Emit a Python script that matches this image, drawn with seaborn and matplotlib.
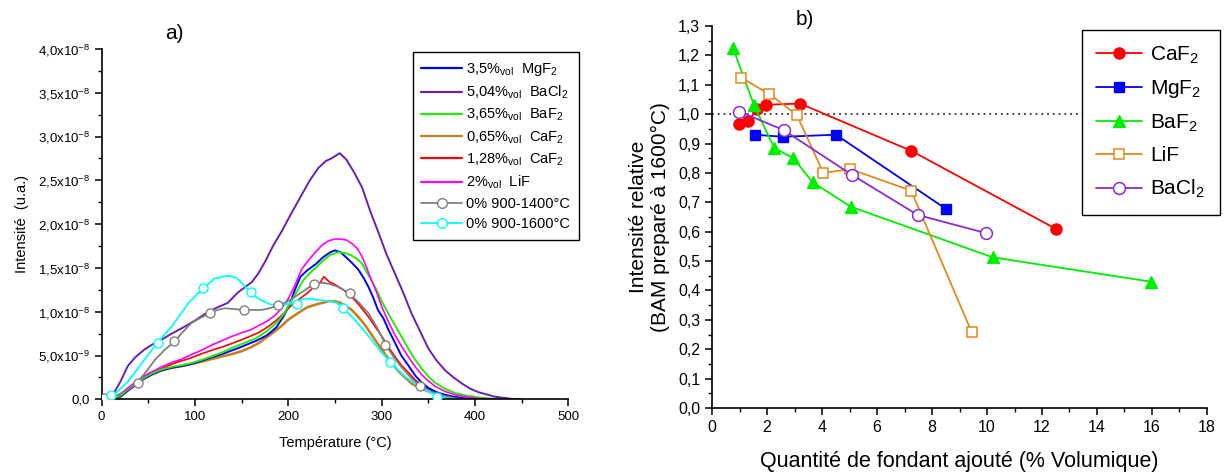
import matplotlib
matplotlib.use("Agg")
import matplotlib.pyplot as plt
from matplotlib.lines import Line2D
from matplotlib.ticker import MultipleLocator, FuncFormatter
import pandas as pd
import seaborn as sns

# ---------------------------------------------------------------- data
# a) TL glow curves, intensity in units of 1e-8 (u.a.)
temp_mgf2 = [0, 10, 20, 28, 37, 46, 55, 64, 75, 86, 95, 107, 118, 130, 140, 150, 159, 166, 177, 187,
             195, 202, 207, 213, 220, 230, 237, 245, 250, 256, 261, 268, 275, 281, 286, 291, 296, 302,
             307, 314, 321, 329, 336, 343, 350, 359, 368, 377, 386, 400]
tl_mgf2 = [0.0, 0.0, 0.03, 0.10, 0.17, 0.24, 0.29, 0.33, 0.36, 0.38, 0.40, 0.44, 0.48, 0.52, 0.56, 0.60,
           0.64, 0.67, 0.73, 0.82, 0.95, 1.10, 1.25, 1.40, 1.47, 1.55, 1.62, 1.68, 1.70, 1.68, 1.63,
           1.56, 1.48, 1.38, 1.28, 1.16, 1.02, 0.92, 0.80, 0.65, 0.50, 0.38, 0.27, 0.19, 0.13, 0.08,
           0.05, 0.03, 0.015, 0.0]

temp_bacl2 = [0, 10, 14, 20, 28, 36, 46, 55, 64, 75, 89, 100, 110, 122, 135, 146, 161, 168, 175, 184,
              193, 202, 214, 223, 232, 240, 246, 255, 262, 270, 279, 288, 296, 305, 314, 323, 332, 341,
              350, 359, 368, 377, 386, 395, 404, 421, 439, 450]
tl_bacl2 = [0.0, 0.02, 0.09, 0.2, 0.38, 0.48, 0.57, 0.63, 0.68, 0.75, 0.83, 0.9, 0.97, 1.04, 1.1, 1.22,
            1.34, 1.44, 1.57, 1.76, 1.92, 2.1, 2.33, 2.5, 2.64, 2.72, 2.75, 2.81, 2.74, 2.6, 2.42, 2.14,
            1.92, 1.66, 1.44, 1.22, 0.98, 0.78, 0.58, 0.44, 0.33, 0.25, 0.18, 0.12, 0.08, 0.03, 0.005, 0.0]

temp_baf2 = [0, 10, 20, 28, 37, 46, 55, 64, 75, 86, 95, 107, 118, 130, 140, 150, 159, 166, 177, 187,
             195, 202, 209, 216, 223, 230, 237, 245, 254, 261, 268, 274, 279, 284, 289, 295, 300, 307,
             314, 321, 329, 336, 343, 350, 357, 368, 379, 392, 404, 421, 440]
tl_baf2 = [0.0, 0.0, 0.04, 0.11, 0.18, 0.25, 0.30, 0.34, 0.37, 0.39, 0.41, 0.45, 0.49, 0.54, 0.59, 0.63,
           0.67, 0.70, 0.78, 0.87, 0.97, 1.10, 1.23, 1.36, 1.44, 1.51, 1.58, 1.65, 1.68, 1.67, 1.64,
           1.60, 1.55, 1.45, 1.36, 1.24, 1.12, 0.98, 0.85, 0.72, 0.57, 0.45, 0.35, 0.26, 0.19, 0.12,
           0.07, 0.04, 0.02, 0.005, 0.0]

temp_caf2_065 = [0, 10, 20, 28, 37, 46, 55, 64, 75, 86, 95, 107, 118, 129, 141, 150, 159, 168, 177, 186,
                 193, 200, 207, 214, 220, 229, 236, 243, 250, 256, 261, 268, 275, 282, 289, 296, 304,
                 311, 318, 325, 332, 341, 350, 359, 368, 377, 386, 400]
tl_caf2_065 = [0.0, 0.0, 0.03, 0.10, 0.17, 0.24, 0.29, 0.33, 0.36, 0.38, 0.40, 0.43, 0.46, 0.49, 0.52,
               0.55, 0.59, 0.64, 0.71, 0.78, 0.84, 0.91, 0.96, 1.01, 1.05, 1.08, 1.10, 1.12, 1.12, 1.10,
               1.07, 1.02, 0.94, 0.85, 0.74, 0.63, 0.51, 0.41, 0.32, 0.25, 0.18, 0.13, 0.09, 0.06, 0.03,
               0.015, 0.008, 0.0]

temp_caf2_128 = [0, 10, 20, 28, 37, 46, 55, 64, 75, 86, 95, 107, 118, 130, 140, 150, 159, 168, 177, 187,
                 195, 202, 210, 220, 229, 234, 238, 244, 250, 259, 268, 277, 286, 293, 300, 307, 314,
                 321, 329, 336, 343, 352, 361, 370, 379, 392]
tl_caf2_128 = [0.0, 0.0, 0.04, 0.11, 0.19, 0.26, 0.31, 0.35, 0.40, 0.44, 0.47, 0.52, 0.56, 0.60, 0.64,
               0.68, 0.72, 0.76, 0.82, 0.90, 0.98, 1.06, 1.13, 1.21, 1.30, 1.33, 1.40, 1.34, 1.31, 1.25,
               1.17, 1.06, 0.94, 0.83, 0.72, 0.60, 0.49, 0.39, 0.30, 0.22, 0.16, 0.11, 0.07, 0.04, 0.02,
               0.0]

temp_lif = [0, 11, 20, 28, 37, 46, 55, 64, 75, 86, 96, 107, 118, 129, 140, 150, 159, 168, 177, 186,
            193, 200, 207, 214, 221, 229, 236, 243, 250, 255, 262, 268, 274, 279, 284, 289, 295, 300,
            307, 314, 321, 329, 336, 343, 350, 357, 368, 379, 392, 404, 420]
tl_lif = [0.0, 0.01, 0.06, 0.13, 0.2, 0.27, 0.32, 0.37, 0.42, 0.46, 0.51, 0.56, 0.62, 0.67, 0.72, 0.76,
          0.79, 0.84, 0.89, 0.96, 1.04, 1.15, 1.30, 1.48, 1.58, 1.68, 1.76, 1.81, 1.83, 1.83, 1.82, 1.78,
          1.72, 1.63, 1.50, 1.36, 1.21, 1.06, 0.89, 0.74, 0.61, 0.48, 0.37, 0.28, 0.21, 0.15, 0.09,
          0.05, 0.025, 0.01, 0.0]

temp_ref1400 = [0, 14, 28, 38, 48, 57, 67, 78, 87, 96, 106, 115, 124, 132, 142, 153, 162, 171, 180, 189,
                198, 207, 218, 228, 236, 243, 252, 259, 266, 276, 286, 295, 304, 313, 321, 331, 341, 350,
                357, 366, 375, 385]
tl_ref1400 = [0.01, 0.03, 0.11, 0.19, 0.32, 0.45, 0.56, 0.66, 0.77, 0.87, 0.93, 0.98, 1.02, 1.04, 1.03,
              1.02, 1.02, 1.02, 1.04, 1.07, 1.11, 1.17, 1.25, 1.32, 1.33, 1.32, 1.29, 1.25, 1.20, 1.10,
              0.98, 0.82, 0.63, 0.48, 0.37, 0.25, 0.15, 0.10, 0.07, 0.04, 0.02, 0.0]
mark_temp_ref1400 = [2, 39, 78, 116, 152, 189, 227, 266, 304, 341]
mark_tl_ref1400 = [0.02, 0.19, 0.66, 0.99, 1.02, 1.08, 1.32, 1.21, 0.62, 0.15]

temp_ref1600 = [0, 5, 14, 28, 43, 59, 75, 93, 109, 121, 130, 136, 144, 150, 157, 164, 171, 182, 193, 200,
                207, 214, 221, 236, 246, 252, 259, 271, 280, 289, 298, 307, 316, 325, 334, 343, 357, 371,
                385]
tl_ref1600 = [0.03, 0.04, 0.06, 0.2, 0.41, 0.64, 0.83, 1.10, 1.27, 1.38, 1.40, 1.41, 1.39, 1.33, 1.25,
              1.18, 1.13, 1.08, 1.08, 1.09, 1.10, 1.14, 1.15, 1.13, 1.12, 1.10, 1.04, 0.91, 0.80, 0.68,
              0.56, 0.45, 0.35, 0.26, 0.19, 0.13, 0.05, 0.01, 0.0]
mark_temp_ref1600 = [10, 60, 109, 160, 209, 259, 309, 359]
mark_tl_ref1600 = [0.05, 0.64, 1.27, 1.23, 1.09, 1.04, 0.43, 0.03]

tl_labels = [r"3,5%$_{\mathrm{vol}}$  MgF$_2$", r"5,04%$_{\mathrm{vol}}$  BaCl$_2$",
             r"3,65%$_{\mathrm{vol}}$  BaF$_2$", r"0,65%$_{\mathrm{vol}}$  CaF$_2$",
             r"1,28%$_{\mathrm{vol}}$  CaF$_2$", r"2%$_{\mathrm{vol}}$  LiF",
             "0% 900-1400°C", "0% 900-1600°C"]
left_ytick_labels = ["0,0", r"5,0x10$^{-9}$", r"1,0x10$^{-8}$", r"1,5x10$^{-8}$", r"2,0x10$^{-8}$",
                     r"2,5x10$^{-8}$", r"3,0x10$^{-8}$", r"3,5x10$^{-8}$", r"4,0x10$^{-8}$"]

# b) relative intensity vs flux amount (% vol)
x_caf2 = [0.98, 1.31, 1.64, 1.97, 3.2, 7.25, 12.5]
y_caf2 = [0.966, 0.976, 1.017, 1.032, 1.036, 0.875, 0.61]
x_mgf2 = [1.56, 2.57, 4.51, 8.5]
y_mgf2 = [0.93, 0.923, 0.93, 0.678]
x_baf2 = [0.76, 1.53, 2.26, 2.96, 3.66, 5.05, 10.2, 15.96]
y_baf2 = [1.226, 1.03, 0.885, 0.85, 0.768, 0.685, 0.513, 0.43]
x_lif = [1.06, 2.09, 3.08, 4.05, 5.02, 7.24, 9.45]
y_lif = [1.124, 1.068, 0.998, 0.80, 0.813, 0.74, 0.257]
x_bacl2 = [0.99, 2.6, 5.08, 7.48, 9.97]
y_bacl2 = [1.009, 0.946, 0.794, 0.657, 0.595]
flux_labels = ["CaF$_2$", "MgF$_2$", "BaF$_2$", "LiF", "BaCl$_2$"]

# ---------------------------------------------------------------- style
sns.set_theme(style="ticks")
plt.rcParams["font.family"] = ["Liberation Sans", "DejaVu Sans"]
plt.rcParams["mathtext.fontset"] = "custom"
plt.rcParams["mathtext.rm"] = "Liberation Sans"
plt.rcParams["mathtext.it"] = "Liberation Sans:italic"
plt.rcParams["mathtext.bf"] = "Liberation Sans:bold"
plt.rcParams["axes.edgecolor"] = "black"
plt.rcParams["xtick.color"] = "black"
plt.rcParams["ytick.color"] = "black"
plt.rcParams["text.color"] = "black"
plt.rcParams["axes.labelcolor"] = "black"

tl_colors = ["#0000FF", "#6A1FB5", "#22EE00", "#C8801E", "#FF0000", "#FF00FF", "#808080", "#00FFFF"]
tl_widths = [1.4, 1.4, 1.4, 1.9, 1.2, 1.2, 1.3, 1.3]
flux_colors = ["#FF0000", "#0000FF", "#00EE00", "#E08A20", "#8A2BD2"]

fig = plt.figure(figsize=(12.31, 4.75), dpi=100)

# ---------------------------------------------------------------- panel a
ax1 = fig.add_axes([0.0826, 0.1594, 0.3791, 0.7374])
curves = [(temp_mgf2, tl_mgf2), (temp_bacl2, tl_bacl2), (temp_baf2, tl_baf2),
          (temp_caf2_065, tl_caf2_065), (temp_caf2_128, tl_caf2_128), (temp_lif, tl_lif),
          (temp_ref1400, tl_ref1400), (temp_ref1600, tl_ref1600)]
tl_df = pd.concat(
    [pd.DataFrame({"temp": t, "tl": v, "serie": lab}) for (t, v), lab in zip(curves, tl_labels)],
    ignore_index=True,
)
draw_order = [3, 4, 0, 2, 5, 1, 6, 7]
for i in draw_order:
    sns.lineplot(data=tl_df[tl_df.serie == tl_labels[i]], x="temp", y="tl", color=tl_colors[i],
                 linewidth=tl_widths[i], estimator=None, sort=False, ax=ax1)

marks = [(mark_temp_ref1400, mark_tl_ref1400, 6), (mark_temp_ref1600, mark_tl_ref1600, 7)]
for mt, mv, i in marks:
    sns.scatterplot(x=mt, y=mv, marker="o", s=42, facecolor="white", edgecolor=tl_colors[i],
                    linewidth=1.0, ax=ax1, zorder=4)

ax1.set_xlim(0, 500)
ax1.set_ylim(0, 4.0)
ax1.xaxis.set_major_locator(MultipleLocator(100))
ax1.xaxis.set_minor_locator(MultipleLocator(50))
ax1.set_yticks([i * 0.5 for i in range(9)])
ax1.set_yticklabels(left_ytick_labels)
ax1.yaxis.set_minor_locator(MultipleLocator(0.25))
ax1.tick_params(which="major", direction="out", length=5, width=1.1, labelsize=9.5)
ax1.tick_params(which="minor", direction="out", length=3, width=1.0)
ax1.set_xlabel("Température (°C)", fontsize=10.5, labelpad=9)
ax1.set_ylabel("Intensité  (u.a.)", fontsize=10.5, labelpad=6)
for sp in ["left", "bottom"]:
    ax1.spines[sp].set_linewidth(1.2)
sns.despine(ax=ax1)

handles1 = []
for i, lab in enumerate(tl_labels):
    if i >= 6:
        handles1.append(Line2D([], [], color=tl_colors[i], lw=1.3, marker="o", ms=7,
                               mfc="white", mec=tl_colors[i], label=lab))
    else:
        handles1.append(Line2D([], [], color=tl_colors[i], lw=1.6, label=lab))
leg1 = ax1.legend(handles=handles1, loc="upper right", bbox_to_anchor=(1.023, 0.991),
                  borderaxespad=0, fontsize=10.5, handlelength=2.8, handletextpad=0.3,
                  labelspacing=0.4, frameon=True, fancybox=False, framealpha=1,
                  edgecolor="black", borderpad=0.6)
leg1.get_frame().set_linewidth(1.0)

fig.text(0.142, 0.93, "a)", fontsize=15, ha="center", va="center")

# ---------------------------------------------------------------- panel b
ax2 = fig.add_axes([0.5784, 0.141, 0.4021, 0.8043])
flux_sets = [(x_caf2, y_caf2), (x_mgf2, y_mgf2), (x_baf2, y_baf2), (x_lif, y_lif), (x_bacl2, y_bacl2)]
flux_df = pd.concat(
    [pd.DataFrame({"vol": xs, "rel": ys, "flux": lab}) for (xs, ys), lab in zip(flux_sets, flux_labels)],
    ignore_index=True,
)
flux_markers = ["o", "s", "^", "s", "o"]
flux_msize = [8, 7, 9, 7.5, 8.5]
flux_filled = [True, True, True, False, False]

ax2.axhline(1.0, color="#333333", linestyle=(0, (1, 2.2)), linewidth=1.3, zorder=1)
for i, lab in enumerate(flux_labels):
    col = flux_colors[i]
    sns.lineplot(data=flux_df[flux_df.flux == lab], x="vol", y="rel", color=col, linewidth=1.3,
                 marker=flux_markers[i], markersize=flux_msize[i],
                 markerfacecolor=col if flux_filled[i] else "white",
                 markeredgecolor=col, markeredgewidth=1.0 if flux_filled[i] else 1.1,
                 estimator=None, sort=False, label=lab, ax=ax2, zorder=3)

ax2.set_xlim(0, 18)
ax2.set_ylim(0, 1.3)
ax2.xaxis.set_major_locator(MultipleLocator(2))
ax2.xaxis.set_minor_locator(MultipleLocator(1))
ax2.yaxis.set_major_locator(MultipleLocator(0.1))
ax2.yaxis.set_minor_locator(MultipleLocator(0.05))
ax2.yaxis.set_major_formatter(FuncFormatter(lambda v, p: f"{v:.1f}".replace(".", ",")))
ax2.tick_params(which="major", direction="out", length=5, width=1.1, labelsize=11.5)
ax2.tick_params(which="minor", direction="out", length=3, width=1.0)
ax2.set_xlabel("Quantité de fondant ajouté (% Volumique)", fontsize=15.5, labelpad=12)
ax2.set_ylabel("Intensité relative\n(BAM preparé à 1600°C)", fontsize=15, labelpad=6)
for sp in ["left", "bottom"]:
    ax2.spines[sp].set_linewidth(1.2)
sns.despine(ax=ax2)

leg2 = ax2.legend(loc="upper right", bbox_to_anchor=(1.026, 0.99), borderaxespad=0, fontsize=15,
                  handlelength=2.2, handletextpad=0.4, labelspacing=0.6, frameon=True,
                  fancybox=False, framealpha=1, edgecolor="black", borderpad=0.7)
leg2.get_frame().set_linewidth(1.0)
leg2.set_zorder(5)

fig.text(0.654, 0.958, "b)", fontsize=15, ha="center", va="center")

fig.savefig("out.png", dpi=100)
